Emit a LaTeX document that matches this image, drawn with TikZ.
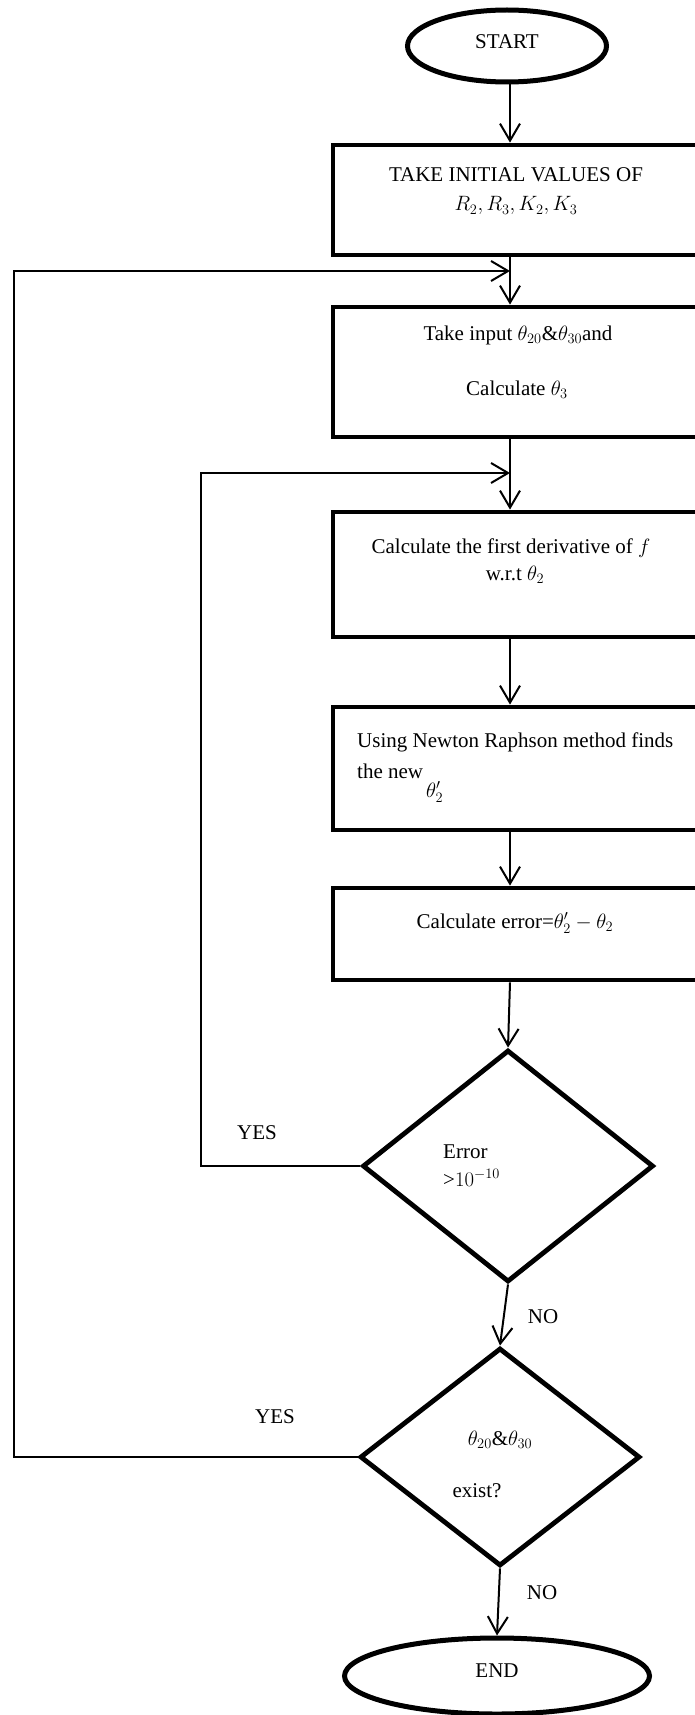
\documentclass[tikz,border=0pt]{standalone}
\usepackage{fontspec}
\setmainfont{Liberation Serif}
\usetikzlibrary{shapes.geometric, arrows.meta, positioning}

\tikzstyle{arrow} = [line width=2pt, -{Straight Barb[length=17pt,width=20pt]}]
\tikzstyle{process} = [rectangle, draw, line width=4.8pt, minimum width=367pt, inner sep=0pt]
\tikzset{
  terminal/.style={ellipse, draw, line width=5pt, inner sep=0pt},
  decision/.style={diamond, draw, line width=4.8pt, inner sep=0pt},
  txt/.style={inner sep=0pt, anchor=base, font=\fontsize{21}{25}\selectfont},
  ltxt/.style={txt, anchor=base west}
}

\begin{document}
\begin{tikzpicture}[x=1pt, y=-1pt]
  \useasboundingbox (0,0) rectangle (695,1715);
  \clip (0,0) rectangle (695,1715);

  % Start
  \node[terminal, minimum width=199pt, minimum height=72pt] (start) at (507,46) {};
  \node[txt] (start-t) at (507,49) {START};

  % Initial values
  \node[process, minimum height=110pt] (box1) at (516.5,200) {};
  \node[txt] (box1-a) at (516,182) {TAKE INITIAL VALUES OF};
  \node[txt] (box1-b) at (516,211) {$R_2,R_3,K_2,K_3$};

  % Input angles
  \node[process, minimum height=130pt] (box2) at (516.5,372) {};
  \node[txt] (box2-a) at (518,340) {Take input $\theta_{20}$\&$\theta_{30}$and};
  \node[txt] (box2-b) at (517,395) {Calculate $\theta_3$};

  % Derivative
  \node[process, minimum height=125pt] (box3) at (516.5,574.5) {};
  \node[txt] (box3-a) at (511,553) {Calculate the first derivative of $f$};
  \node[txt] (box3-b) at (515,580) {w.r.t $\theta_2$};

  % Newton Raphson
  \node[process, minimum height=123pt] (box4) at (516.5,768.5) {};
  \node[ltxt] (box4-a) at (357,747) {Using Newton Raphson method finds};
  \node[ltxt] (box4-b) at (357,778) {the new};
  \node[ltxt] (box4-c) at (426,797) {$\theta_2'$};

  % Error
  \node[process, minimum height=92pt] (box5) at (516.5,934) {};
  \node[txt] (box5-a) at (515,928) {Calculate error=$\theta_2'-\theta_2$};

  % Decisions
  \node[decision, minimum width=291pt, minimum height=232pt] (d1) at (508,1166) {};
  \node[ltxt] (d1-a) at (443,1158) {Error};
  \node[ltxt] (d1-b) at (443,1186) {>$10^{-10}$};

  \node[decision, minimum width=280pt, minimum height=218pt] (d2) at (500,1457) {};
  \node[txt] (d2-a) at (500,1445) {$\theta_{20}$\&$\theta_{30}$};
  \node[txt] (d2-b) at (477,1497) {exist?};

  % End
  \node[terminal, minimum width=305pt, minimum height=76pt] (end) at (497,1676) {};
  \node[txt] (end-t) at (497,1677) {END};

  % Branch labels
  \node[txt] (yes1) at (257,1139) {YES};
  \node[txt] (no1) at (543,1323) {NO};
  \node[txt] (yes2) at (275,1423) {YES};
  \node[txt] (no2) at (542,1599) {NO};

  % Main flow
  \coordinate (col) at (510,0);
  \draw[arrow] (col |- start.south) -- (col |- box1.north);
  \draw[arrow] (col |- box1.south) -- (col |- box2.north);
  \draw[arrow] (col |- box2.south) -- (col |- box3.north);
  \draw[arrow] (col |- box3.south) -- (col |- box4.north);
  \draw[arrow] (col |- box4.south) -- (col |- box5.north);
  \draw[arrow] (col |- box5.south) -- (d1.north);
  \draw[arrow] (d1.south) -- (d2.north);
  \draw[arrow] (d2.south) -- (end.north);

  % Loops
  \coordinate (inner) at (201,0);
  \coordinate (outer) at (14,0);
  \coordinate (in2) at (510,271);
  \coordinate (in3) at (510,473);
  \draw[arrow] (d1.west) -- (d1.west -| inner) -- (inner |- in3) -- (in3);
  \draw[arrow] (d2.west) -- (d2.west -| outer) -- (outer |- in2) -- (in2);
\end{tikzpicture}
\end{document}
